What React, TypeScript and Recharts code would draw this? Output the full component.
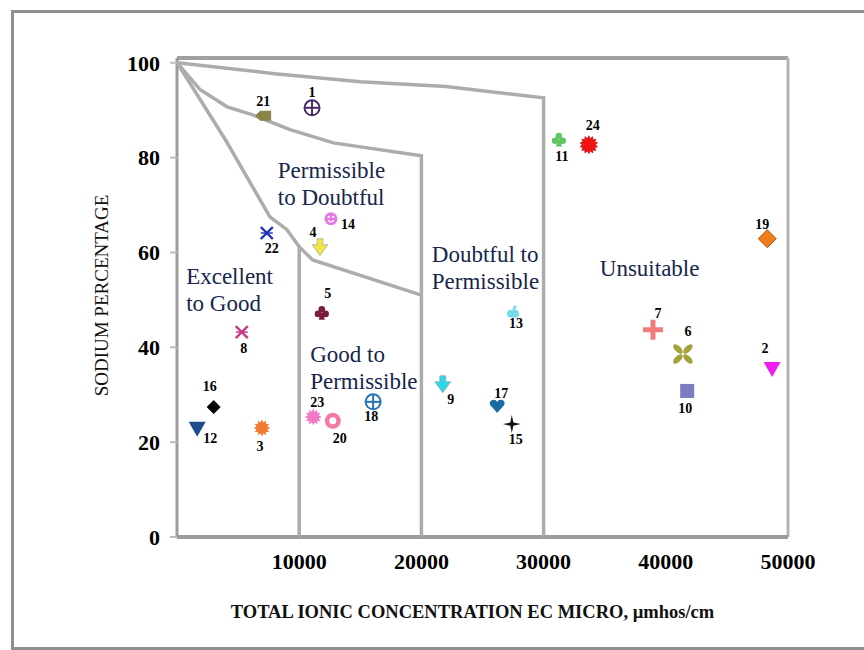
import React from 'react';
import { ScatterChart, Scatter, XAxis, YAxis, ReferenceLine, Label } from 'recharts';

// water samples: id, total ionic concentration (EC) and sodium percentage
const SAMPLE_IDS = [1, 2, 3, 4, 5, 6, 7, 8, 9, 10, 11, 12, 13, 14, 15, 16, 17, 18, 19, 20, 21, 22, 23, 24];
const EC_VALUES = [11050, 48700, 6950, 11700, 11850, 41400, 38950, 5300, 21750, 41750, 31250, 1650, 27500, 12600, 27400, 3000, 26200, 16050, 48300, 12750, 7050, 7350, 11150, 33700];
const NA_PERCENT = [90.5, 35.4, 23.0, 61.0, 47.3, 38.6, 43.7, 43.2, 32.1, 30.8, 83.8, 22.8, 47.3, 67.1, 23.8, 27.4, 27.6, 28.5, 62.9, 24.5, 88.8, 64.1, 25.3, 82.7];

// Wilcox diagram class boundaries
const LINE_UNSUITABLE_X = [0, 8000, 15000, 22000, 30000, 30000];
const LINE_UNSUITABLE_Y = [100, 97.7, 96, 95, 92.6, 0];
const LINE_DOUBTFUL_X = [0, 1900, 4100, 6200, 9250, 12800, 20000, 20000];
const LINE_DOUBTFUL_Y = [100, 94.3, 90.7, 89, 85.9, 83.1, 80.4, 0];
const LINE_PERMISSIBLE_X = [0, 4000, 7600, 9000, 10000, 10000];
const LINE_PERMISSIBLE_Y = [100, 83.6, 67.5, 64.8, 61.2, 0];
const LINE_GOOD_X = [10000, 11100, 20000];
const LINE_GOOD_Y = [61.2, 58.4, 51];

const X_TICKS = [10000, 20000, 30000, 40000, 50000];
const Y_TICKS = [0, 20, 40, 60, 80, 100];

const ZONE_NAMES = [
  ['Permissible', 'to Doubtful'],
  ['Excellent', 'to Good'],
  ['Doubtful to', 'Permissible'],
  ['Unsuitable'],
  ['Good to', 'Permissible'],
];
const ZONE_EC = [8250, 750, 20850, 34600, 10900];
const ZONE_NA = [77.4, 55.1, 59.7, 56.8, 38.6];

const samples = SAMPLE_IDS.map((id, i) => ({ id, ec: EC_VALUES[i], na: NA_PERCENT[i] }));
const toPoints = (xs: number[], ys: number[]) => xs.map((x, i) => ({ ec: x, na: ys[i] }));
const zones = ZONE_NAMES.map((lines, i) => ({ lines, ec: ZONE_EC[i], na: ZONE_NA[i] }));

const SERIF = '"Liberation Serif", "Times New Roman", serif';
const LINE_COLOR = '#acacac';

// marker look per sample
const MARKERS: Record<number, { kind: string; color: string }> = {
  1: { kind: 'circlePlus', color: '#4b2a6b' },
  2: { kind: 'triDown', color: '#f01cf0' },
  3: { kind: 'sun', color: '#f07a30' },
  4: { kind: 'arrow', color: '#ece64a' },
  5: { kind: 'club', color: '#7a1c3c' },
  6: { kind: 'butterfly', color: '#a4a23a' },
  7: { kind: 'plus', color: '#f27c7c' },
  8: { kind: 'xbar', color: '#c43a86' },
  9: { kind: 'arrow', color: '#2cd8e6' },
  10: { kind: 'square', color: '#7c7cc0' },
  11: { kind: 'club', color: '#62c462' },
  12: { kind: 'triDown', color: '#1c4c8c' },
  13: { kind: 'apple', color: '#76dce6' },
  14: { kind: 'smiley', color: '#e27ae2' },
  15: { kind: 'star4', color: '#111111' },
  16: { kind: 'diamond', color: '#000000' },
  17: { kind: 'heart', color: '#1c6ca4' },
  18: { kind: 'circlePlus', color: '#2874b4' },
  19: { kind: 'bigDiamond', color: '#f07c1c' },
  20: { kind: 'donut', color: '#f27aa8' },
  21: { kind: 'tag', color: '#8a8648' },
  22: { kind: 'xbar', color: '#2230b8' },
  23: { kind: 'sun', color: '#f478c8' },
  24: { kind: 'burst', color: '#f21414' },
};

// where each sample number sits relative to its marker
const LABEL_OFFSET: Record<number, [number, number]> = {
  1: [0, -15], 2: [-7, -21], 3: [-2, 19], 4: [-7, -15], 5: [6, -19], 6: [5, -22],
  7: [5, -16], 8: [2, 16], 9: [8, 15], 10: [-2, 18], 11: [3, 17], 12: [13, 10],
  13: [3, 11], 14: [17, 6], 15: [4, 15], 16: [-4, -21], 17: [4, -13], 18: [-2, 15],
  19: [-5, -14], 20: [7, 18], 21: [0, -14], 22: [5, 15], 23: [4, -15], 24: [4, -19],
};

function starPoints(cx: number, cy: number, n: number, r1: number, r2: number, rot = 0) {
  const pts: string[] = [];
  for (let k = 0; k < n * 2; k++) {
    const r = k % 2 === 0 ? r1 : r2;
    const a = rot + (Math.PI * k) / n - Math.PI / 2;
    pts.push(`${(cx + r * Math.cos(a)).toFixed(1)},${(cy + r * Math.sin(a)).toFixed(1)}`);
  }
  return pts.join(' ');
}

function drawMarker(kind: string, c: string, x: number, y: number) {
  switch (kind) {
    case 'circlePlus':
      return (
        <g stroke={c} strokeWidth={2} fill="#fff">
          <circle cx={x} cy={y} r={7.5} />
          <line x1={x - 7.5} y1={y} x2={x + 7.5} y2={y} />
          <line x1={x} y1={y - 7.5} x2={x} y2={y + 7.5} />
        </g>
      );
    case 'triDown':
      return <polygon points={`${x - 8.5},${y - 7} ${x + 8.5},${y - 7} ${x},${y + 8}`} fill={c} />;
    case 'sun':
      return (
        <g>
          <polygon points={starPoints(x, y, 12, 8.5, 5.5)} fill={c} />
          <circle cx={x} cy={y} r={5.5} fill={c} />
        </g>
      );
    case 'burst':
      return (
        <g>
          <polygon points={starPoints(x, y, 14, 9, 6.5)} fill={c} stroke="#b00000" strokeWidth={0.6} />
          <circle cx={x} cy={y} r={6.5} fill={c} />
        </g>
      );
    case 'arrow':
      return (
        <polygon
          points={`${x - 3},${y - 9} ${x + 3},${y - 9} ${x + 3},${y - 3} ${x + 8},${y - 3} ${x},${y + 8} ${x - 8},${y - 3} ${x - 3},${y - 3}`}
          fill={c}
          stroke="#999"
          strokeWidth={0.6}
        />
      );
    case 'club':
      return (
        <g fill={c}>
          <circle cx={x} cy={y - 3.5} r={3.3} />
          <circle cx={x - 3.8} cy={y + 1.2} r={3.3} />
          <circle cx={x + 3.8} cy={y + 1.2} r={3.3} />
          <polygon points={`${x - 1.2},${y} ${x + 1.2},${y} ${x + 3},${y + 7} ${x - 3},${y + 7}`} />
        </g>
      );
    case 'butterfly':
      return (
        <g fill={c}>
          <ellipse cx={x - 5} cy={y - 5} rx={6} ry={3} transform={`rotate(45 ${x - 5} ${y - 5})`} />
          <ellipse cx={x + 5} cy={y - 5} rx={6} ry={3} transform={`rotate(-45 ${x + 5} ${y - 5})`} />
          <ellipse cx={x - 5} cy={y + 5} rx={6} ry={3} transform={`rotate(-45 ${x - 5} ${y + 5})`} />
          <ellipse cx={x + 5} cy={y + 5} rx={6} ry={3} transform={`rotate(45 ${x + 5} ${y + 5})`} />
        </g>
      );
    case 'plus':
      return (
        <g fill={c}>
          <rect x={x - 10} y={y - 2.5} width={20} height={5} />
          <rect x={x - 2.5} y={y - 10} width={5} height={20} />
        </g>
      );
    case 'xbar':
      return (
        <g stroke={c} strokeWidth={2.4}>
          <line x1={x - 6} y1={y - 6} x2={x + 6} y2={y + 6} />
          <line x1={x + 6} y1={y - 6} x2={x - 6} y2={y + 6} />
          <line x1={x - 6} y1={y} x2={x + 6} y2={y} strokeWidth={1.4} />
        </g>
      );
    case 'square':
      return <rect x={x - 7} y={y - 7} width={14} height={14} fill={c} />;
    case 'apple':
      return (
        <g fill={c}>
          <circle cx={x - 2} cy={y + 1} r={4} />
          <circle cx={x + 2} cy={y + 1} r={4} />
          <ellipse cx={x + 1.5} cy={y - 5} rx={1.6} ry={2.6} transform={`rotate(30 ${x + 1.5} ${y - 5})`} />
        </g>
      );
    case 'smiley':
      return (
        <g>
          <circle cx={x} cy={y} r={6.5} fill={c} />
          <circle cx={x - 2.3} cy={y - 1.8} r={1.1} fill="#fff" />
          <circle cx={x + 2.3} cy={y - 1.8} r={1.1} fill="#fff" />
          <path d={`M${x - 3},${y + 1.5} Q${x},${y + 4.5} ${x + 3},${y + 1.5}`} stroke="#fff" strokeWidth={1.2} fill="none" />
        </g>
      );
    case 'star4':
      return <polygon points={starPoints(x, y, 4, 9, 2.2)} fill={c} />;
    case 'diamond':
      return <polygon points={`${x},${y - 7} ${x + 7},${y} ${x},${y + 7} ${x - 7},${y}`} fill={c} />;
    case 'bigDiamond':
      return <polygon points={`${x},${y - 9} ${x + 9},${y} ${x},${y + 9} ${x - 9},${y}`} fill={c} stroke="#b05810" strokeWidth={1} />;
    case 'heart':
      return (
        <path
          d={`M${x},${y + 7} L${x - 7},${y - 1} A3.7,3.7 0 0 1 ${x},${y - 4} A3.7,3.7 0 0 1 ${x + 7},${y - 1} Z`}
          fill={c}
        />
      );
    case 'donut':
      return (
        <g>
          <circle cx={x} cy={y} r={8} fill={c} />
          <circle cx={x} cy={y} r={3.5} fill="#fff" />
        </g>
      );
    case 'tag':
      return <polygon points={`${x - 8},${y} ${x - 3},${y - 5} ${x + 8},${y - 5} ${x + 8},${y + 5} ${x - 3},${y + 5}`} fill={c} />;
    default:
      return <circle cx={x} cy={y} r={5} fill={c} />;
  }
}

function SampleShape(props: any) {
  const { cx, cy, payload } = props;
  if (cx == null || cy == null) return <g />;
  const m = MARKERS[payload.id];
  const [dx, dy] = LABEL_OFFSET[payload.id];
  return (
    <g>
      {drawMarker(m.kind, m.color, cx, cy)}
      <text
        x={cx + dx}
        y={cy + dy}
        textAnchor="middle"
        dominantBaseline="central"
        style={{ fontFamily: SERIF, fontWeight: 'bold', fontSize: 14 }}
        fill="#000"
      >
        {payload.id}
      </text>
    </g>
  );
}

function ZoneShape(props: any) {
  const { cx, cy, payload } = props;
  if (cx == null || cy == null) return <g />;
  return (
    <text x={cx} y={cy} style={{ fontFamily: SERIF, fontSize: 23 }} fill="#16264c" dominantBaseline="central">
      {payload.lines.map((t: string, i: number) => (
        <tspan key={i} x={cx} dy={i === 0 ? 0 : 27}>
          {t}
        </tspan>
      ))}
    </text>
  );
}

const NoShape = () => <g />;

function YTitle(props: any) {
  const { viewBox } = props;
  const x = viewBox.x + 4;
  const y = viewBox.y + viewBox.height / 2 - 2;
  return (
    <text
      x={x}
      y={y}
      transform={`rotate(-90 ${x} ${y})`}
      textAnchor="middle"
      dominantBaseline="central"
      style={{ fontFamily: SERIF, fontSize: 19 }}
      fill="#111"
    >
      SODIUM PERCENTAGE
    </text>
  );
}

function XTitle(props: any) {
  const { viewBox } = props;
  return (
    <text
      x={viewBox.x + viewBox.width / 2 - 10}
      y={viewBox.y + 75}
      textAnchor="middle"
      dominantBaseline="central"
      style={{ fontFamily: SERIF, fontWeight: 'bold', fontSize: 18.5 }}
      fill="#111"
    >
      TOTAL IONIC CONCENTRATION EC MICRO, µmhos/cm
    </text>
  );
}

const tickStyle = { fontFamily: SERIF, fontWeight: 'bold', fontSize: 22, fill: '#000' };

export default function App() {
  const boundaries = [
    toPoints(LINE_UNSUITABLE_X, LINE_UNSUITABLE_Y),
    toPoints(LINE_DOUBTFUL_X, LINE_DOUBTFUL_Y),
    toPoints(LINE_PERMISSIBLE_X, LINE_PERMISSIBLE_Y),
    toPoints(LINE_GOOD_X, LINE_GOOD_Y),
  ];

  return (
    <div style={{ position: 'absolute', left: 0, top: 0, width: 864, height: 650, overflow: 'hidden', background: '#fff' }}>
      <div
        style={{
          position: 'absolute',
          left: 11,
          top: 10,
          width: 880,
          height: 634,
          border: '3px solid #8f8f8f',
        }}
      />
      <div style={{ position: 'absolute', left: 0, top: 0 }}>
        <ScatterChart width={864} height={650} margin={{ top: 58, right: 76, bottom: 28, left: 97 }}>
          <XAxis
            type="number"
            dataKey="ec"
            domain={[0, 50000]}
            ticks={X_TICKS}
            tickLine={false}
            tickMargin={10}
            axisLine={{ stroke: '#9c9c9c', strokeWidth: 4 }}
            tick={tickStyle}
            height={85}
            allowDataOverflow
          >
            <Label content={XTitle} />
          </XAxis>
          <YAxis
            type="number"
            dataKey="na"
            domain={[0, 101]}
            ticks={Y_TICKS}
            tickSize={7}
            tickMargin={10}
            tickLine={{ stroke: '#bdbdbd', strokeWidth: 2 }}
            axisLine={{ stroke: '#9c9c9c', strokeWidth: 3 }}
            tick={tickStyle}
            width={80}
            allowDataOverflow
          >
            <Label content={YTitle} />
          </YAxis>
          <ReferenceLine y={101} stroke="#a0a0a0" strokeWidth={4} />
          <ReferenceLine x={50000} stroke="#b4b4b4" strokeWidth={3} />
          {boundaries.map((pts, i) => (
            <Scatter
              key={i}
              data={pts}
              line={{ stroke: LINE_COLOR, strokeWidth: 3.5 }}
              lineType="joint"
              shape={NoShape}
              isAnimationActive={false}
            />
          ))}
          <Scatter data={zones} shape={ZoneShape} isAnimationActive={false} />
          <Scatter data={samples} shape={SampleShape} isAnimationActive={false} />
        </ScatterChart>
      </div>
    </div>
  );
}
